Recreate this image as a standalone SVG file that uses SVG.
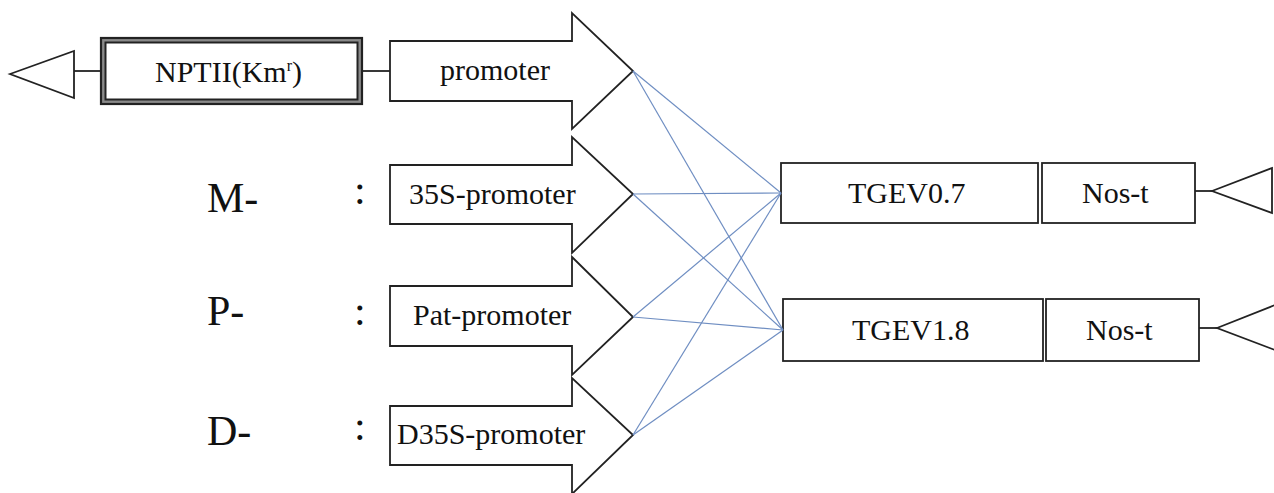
<svg xmlns="http://www.w3.org/2000/svg" width="1274" height="493" viewBox="0 0 1274 493">
<style>
.s{fill:#fff;stroke:#222;stroke-width:1.8}
.ln{fill:none;stroke:#222;stroke-width:1.8}
.t{font-size:30px;fill:#111}
.big{font-size:42px;fill:#111}
.c{fill:none;stroke:#6f8ec2;stroke-width:1.2}
</style>
<rect width="1274" height="493" fill="#fff"/>
<g font-family="'Liberation Serif', 'Times New Roman', 'DejaVu Serif', serif">
<g id="left-terminator">
<line class="ln" x1="74" y1="71" x2="101" y2="71"/>
<polygon class="s" points="10,74 74,51 74,98"/>
</g>
<g id="nptii">
<rect x="101" y="38" width="261" height="66" fill="#8a8a8a" stroke="#222" stroke-width="2.2"/>
<rect x="105.5" y="42.5" width="252" height="57" fill="#fff" stroke="#222" stroke-width="2"/>
<text class="t" x="155" y="82">NPTII(Km<tspan font-size="16" dy="-11">r</tspan><tspan dy="11">)</tspan></text>
</g>
<g id="link-nptii-promoter">
<line class="ln" x1="362" y1="71" x2="390" y2="71"/>
</g>
<g id="promoter">
<polygon class="s" points="390,41 572,41 572,13 633,71 572,129 572,101 390,101"/>
<text class="t" x="440" y="80">promoter</text>
</g>
<g id="m-label">
<text class="big" x="207" y="212">M-</text>
<text class="big" x="354" y="204">:</text>
</g>
<g id="p35s">
<polygon class="s" points="390,165 572,165 572,137 633,194 572,253 572,224 390,224"/>
<text class="t" x="409" y="204">35S-promoter</text>
</g>
<g id="p-label">
<text class="big" x="207" y="325">P-</text>
<text class="big" x="354" y="325">:</text>
</g>
<g id="pat">
<polygon class="s" points="390,286 572,286 572,257 633,317 572,375 572,346 390,346"/>
<text class="t" x="413" y="325">Pat-promoter</text>
</g>
<g id="d-label">
<text class="big" x="207" y="445">D-</text>
<text class="big" x="354" y="440">:</text>
</g>
<g id="d35s">
<polygon class="s" points="390,406 572,406 572,378 633,435 572,494 572,465 390,465"/>
<text class="t" x="397" y="444">D35S-promoter</text>
</g>
<g id="tgev07">
<rect class="s" x="781" y="163" width="257" height="60"/>
<text class="t" x="848" y="203">TGEV0.7</text>
</g>
<g id="nost1">
<rect class="s" x="1042" y="163" width="153" height="60"/>
<text class="t" x="1082" y="203">Nos-t</text>
</g>
<g id="right-terminator-1">
<line class="ln" x1="1195" y1="191" x2="1212" y2="191"/>
<polygon class="s" points="1212,191 1272,168 1272,213"/>
</g>
<g id="tgev18">
<rect class="s" x="783" y="299" width="260" height="62"/>
<text class="t" x="852" y="340">TGEV1.8</text>
</g>
<g id="nost2">
<rect class="s" x="1046" y="299" width="153" height="62"/>
<text class="t" x="1086" y="340">Nos-t</text>
</g>
<g id="right-terminator-2">
<line class="ln" x1="1199" y1="328" x2="1217" y2="328"/>
<polygon class="s" points="1217,328 1275,305 1275,350"/>
</g>
</g>
<g id="connectors">
<line class="c" x1="633" y1="71" x2="781" y2="193"/>
<line class="c" x1="633" y1="71" x2="783" y2="330"/>
<line class="c" x1="633" y1="194" x2="781" y2="193"/>
<line class="c" x1="633" y1="194" x2="783" y2="330"/>
<line class="c" x1="633" y1="317" x2="781" y2="193"/>
<line class="c" x1="633" y1="317" x2="783" y2="330"/>
<line class="c" x1="633" y1="435" x2="781" y2="193"/>
<line class="c" x1="633" y1="435" x2="783" y2="330"/>
</g>
</svg>
